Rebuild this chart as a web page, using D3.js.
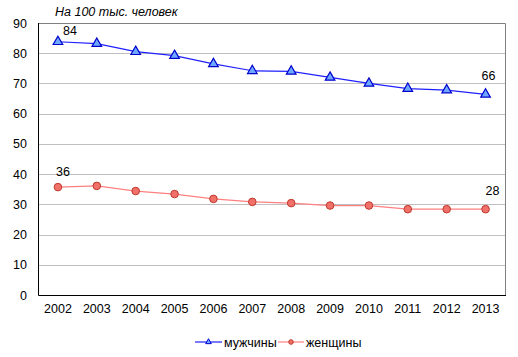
<!DOCTYPE html>
<html><head><meta charset="utf-8">
<script src="https://cdn.jsdelivr.net/npm/d3@7"></script>
<style>body{margin:0;background:#fff}svg{display:block}text{font-family:Arial,"Liberation Sans",sans-serif}</style>
</head><body><svg id="c" width="518" height="357"></svg>
<script>
const years = ["2002","2003","2004","2005","2006","2007","2008","2009","2010","2011","2012","2013"];
const men = [83.8,83.2,80.5,79.2,76.5,74.2,74.0,72.0,70.0,68.3,67.8,66.4];
const women = [35.7,36.1,34.4,33.4,31.8,30.8,30.4,29.6,29.6,28.4,28.4,28.4];
const yTicks = [0,10,20,30,40,50,60,70,80,90];
const menName = "мужчины", womenName = "женщины";
const unitLabel = "На 100 тыс. человек";

const svg = d3.select("#c");
const L=38.5, R=505, T=23, B=295;
const x = d3.scaleBand().domain(years).range([L,R]);
const y = d3.scaleLinear().domain([0,90]).range([B,T]);

// gridlines
svg.append("g").selectAll("line").data(yTicks.filter(d=>d>0 && d<90)).join("line")
  .attr("x1",L).attr("x2",R).attr("y1",d=>Math.round(y(d))+0.5).attr("y2",d=>Math.round(y(d))+0.5)
  .attr("stroke","#c0c0c0").attr("stroke-width",1);
// border top/right
svg.append("path").attr("d",`M${L},${T+0.5}H${R+0.5}V${B}`).attr("fill","none").attr("stroke","#808080");
// axes
svg.append("line").attr("x1",L).attr("x2",L).attr("y1",T).attr("y2",B+0.5).attr("stroke","#000");
svg.append("line").attr("x1",L).attr("x2",R+1).attr("y1",B+0.5).attr("y2",B+0.5).attr("stroke","#000");

// y labels
svg.append("g").selectAll("text").data(yTicks).join("text")
  .attr("x",27).attr("y",d=>y(d)+4.5).attr("text-anchor","end").attr("font-size",12.5).attr("fill","#000").text(d=>d);
// x labels
svg.append("g").selectAll("text").data(years).join("text")
  .attr("x",d=>x(d)+x.bandwidth()/2).attr("y",313).attr("text-anchor","middle").attr("font-size",12.5).attr("fill","#000").text(d=>d);

// title
svg.append("text").attr("x",55).attr("y",16).attr("font-size",12.5).attr("font-style","italic").attr("fill","#000").text(unitLabel);

const cx = d=>x(d)+x.bandwidth()/2;
const line = d3.line().x((d,i)=>cx(years[i])).y(d=>y(d));

// women
svg.append("path").datum(women).attr("d",line).attr("fill","none").attr("stroke","#ff8080").attr("stroke-width",1.2);
svg.append("g").selectAll("circle").data(women).join("circle")
  .attr("cx",(d,i)=>cx(years[i])).attr("cy",d=>y(d)).attr("r",3.8)
  .attr("fill","#f0706a").attr("stroke","#c0392b").attr("stroke-width",1);
// men
svg.append("path").datum(men).attr("d",line).attr("fill","none").attr("stroke","#2020ff").attr("stroke-width",1.2);
const tri = d3.symbol().type(d3.symbolTriangle).size(40);
svg.append("g").selectAll("path").data(men).join("path")
  .attr("d",tri).attr("transform",(d,i)=>`translate(${cx(years[i])},${y(d)})`)
  .attr("fill","#6fa8ff").attr("stroke","#0000cc").attr("stroke-width",1.2);

// data labels
const lab = (t,xx,yy)=>svg.append("text").attr("x",xx).attr("y",yy).attr("font-size",12.5).attr("text-anchor","middle").attr("fill","#000").text(t);
lab(Math.round(men[0]), cx(years[0])+12, y(men[0])-7);
lab(Math.round(men[11]), cx(years[11])+3, y(men[11])-14);
lab(Math.round(women[0]), cx(years[0])+5, y(women[0])-11);
lab(Math.round(women[11]), cx(years[11])+7, y(women[11])-14);

// legend
const lg = svg.append("g");
lg.append("line").attr("x1",195).attr("x2",222).attr("y1",342).attr("y2",342).attr("stroke","#2020ff").attr("stroke-width",1.2);
lg.append("path").attr("d",d3.symbol().type(d3.symbolTriangle).size(14)).attr("transform","translate(208.5,342)").attr("fill","#6fa8ff").attr("stroke","#0000cc");
lg.append("text").attr("x",224).attr("y",346.5).attr("font-size",12.5).attr("fill","#000").text(menName);
lg.append("line").attr("x1",278).attr("x2",304).attr("y1",342).attr("y2",342).attr("stroke","#ff8080").attr("stroke-width",1.2);
lg.append("circle").attr("cx",291).attr("cy",342).attr("r",2.3).attr("fill","#f0706a").attr("stroke","#c0392b");
lg.append("text").attr("x",306).attr("y",346.5).attr("font-size",12.5).attr("fill","#000").text(womenName);
</script></body></html>
